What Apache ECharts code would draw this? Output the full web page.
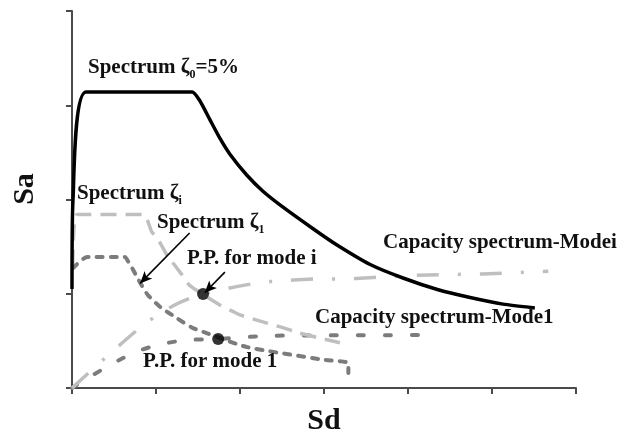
<!DOCTYPE html>
<html>
<head>
<meta charset="utf-8">
<script src="https://cdn.jsdelivr.net/npm/echarts@6/dist/echarts.min.js"></script>
<style>
html,body{margin:0;padding:0;background:#fff;}
#c{width:624px;height:434px;}
</style>
</head>
<body>
<div id="c"></div>
<script>
// Spectrum zeta0 = 5% (black)
const spec5Sd = [0, 0.012, 0.167, 1.43, 1.52, 1.64, 1.76, 1.88, 2.08, 2.27, 2.48, 2.87, 3.15, 3.55, 3.94, 4.35, 4.74, 5.13, 5.51];
const spec5Sa = [1.05, 2.0, 3.14, 3.14, 3.05, 2.85, 2.65, 2.48, 2.26, 2.09, 1.94, 1.69, 1.52, 1.31, 1.167, 1.045, 0.96, 0.89, 0.85];
// Spectrum zeta_i (light grey dashed)
const specISd = [0.01, 0.06, 0.85, 0.95, 1.01, 1.13, 1.19, 1.31, 1.40, 1.76, 1.92, 2.0, 2.20, 2.51, 2.68, 2.95, 3.19];
const specISa = [1.3, 1.84, 1.84, 1.655, 1.60, 1.41, 1.34, 1.20, 1.09, 0.88, 0.81, 0.775, 0.72, 0.64, 0.59, 0.53, 0.48];
// Spectrum zeta_1 (dark grey dotted)
const spec1Sd = [0.01, 0.18, 0.63, 0.67, 0.73, 0.79, 0.90, 1.05, 1.25, 1.43, 1.61, 2.08, 2.99, 3.29, 3.29];
const spec1Sa = [1.27, 1.39, 1.39, 1.34, 1.25, 1.15, 0.99, 0.86, 0.74, 0.64, 0.58, 0.435, 0.30, 0.265, 0.16];
// Capacity spectrum - Mode i (light grey long dash)
const capISd = [0, 0.81, 1.20, 1.56, 2.20, 2.45, 2.95, 3.21, 3.70, 4.24, 4.88, 5.67];
const capISa = [0, 0.64, 0.87, 0.997, 1.114, 1.135, 1.157, 1.157, 1.178, 1.20, 1.21, 1.24];
// Capacity spectrum - Mode 1 (dark grey dotted)
const cap1Sd = [0, 0.21, 0.54, 0.81, 1.13, 1.40, 1.74, 2.30, 3.0, 4.29];
const cap1Sa = [0, 0.117, 0.286, 0.40, 0.477, 0.51, 0.52, 0.552, 0.558, 0.562];
// Performance points
const ppSd = [1.56, 1.74];
const ppSa = [0.997, 0.52];
// Arrows [fromSd, fromSa, toSd, toSa]
const arrowZeta1 = [1.40, 1.645, 0.81, 1.11];
const arrowPPi = [1.82, 1.23, 1.58, 1.01];

const zip = (a, b) => a.map((v, i) => [v, b[i]]);
const FONT = '"Liberation Serif","Times New Roman",serif';

const chart = echarts.init(document.getElementById('c'), null, {renderer: 'canvas'});

function lbl(parts, left, midY) {
  let t = parts.map(p => '{' + p[1] + '|' + p[0] + '}').join('');
  return {
    type: 'text', left: left, top: midY - 13, z: 10,
    style: {
      text: t,
      rich: {
        b: {fontFamily: FONT, fontWeight: 'bold', fontSize: 21, lineHeight: 26, fill: '#111'},
        s: {fontFamily: FONT, fontWeight: 'bold', fontSize: 12, lineHeight: 14, verticalAlign: 'bottom', fill: '#111'}
      }
    }
  };
}

const axisCommon = {
  type: 'value',
  axisLine: {show: true, lineStyle: {color: '#4a4a4a', width: 2}},
  axisTick: {show: true, length: 6, lineStyle: {color: '#4a4a4a', width: 2}},
  axisLabel: {show: false},
  splitLine: {show: false}
};

chart.setOption({
  animation: false,
  backgroundColor: '#fff',
  grid: {left: 72, right: 48, top: 11, bottom: 46},
  xAxis: Object.assign({}, axisCommon, {min: 0, max: 6, interval: 1}),
  yAxis: Object.assign({}, axisCommon, {min: 0, max: 4, interval: 1}),
  series: [
    {
      type: 'line', data: zip(cap1Sd, cap1Sa), smooth: 0.3, symbol: 'none',
      lineStyle: {color: '#7c7c7c', width: 4, type: [6, 21], cap: 'round'}
    },
    {
      type: 'line', data: zip(capISd, capISa), smooth: 0.3, symbol: 'none',
      lineStyle: {color: '#bfbfbf', width: 3.5, type: [22, 19, 3, 19]}
    },
    {
      type: 'line', data: zip(specISd, specISa), smooth: 0.2, symbol: 'none',
      lineStyle: {color: '#bfbfbf', width: 3.5, type: [16, 9]}
    },
    {
      type: 'line', data: zip(spec1Sd, spec1Sa), smooth: 0.2, symbol: 'none',
      lineStyle: {color: '#7c7c7c', width: 4, type: [6, 8], cap: 'round'}
    },
    {
      type: 'line', data: zip(spec5Sd, spec5Sa), smooth: 0.2, symbol: 'none',
      lineStyle: {color: '#000', width: 3.5, join: 'round'},
      markLine: {
        silent: true, symbol: ['none', 'arrow'], symbolSize: [8, 12],
        label: {show: false},
        lineStyle: {color: '#000', width: 1.6, type: 'solid'},
        data: [
          [{coord: [arrowZeta1[0], arrowZeta1[1]]}, {coord: [arrowZeta1[2], arrowZeta1[3]]}],
          [{coord: [arrowPPi[0], arrowPPi[1]]}, {coord: [arrowPPi[2], arrowPPi[3]]}]
        ]
      }
    },
    {
      type: 'scatter', data: zip(ppSd, ppSa), symbol: 'circle', symbolSize: 12,
      itemStyle: {color: '#000'}, z: 5
    }
  ],
  graphic: [
    lbl([['Spectrum ζ', 'b'], ['0', 's'], ['=5%', 'b']], 88, 70),
    lbl([['Spectrum ζ', 'b'], ['i', 's']], 77, 196),
    lbl([['Spectrum ζ', 'b'], ['1', 's']], 157, 225),
    lbl([['P.P. for mode i', 'b']], 187, 261),
    lbl([['P.P. for mode 1', 'b']], 143, 364),
    lbl([['Capacity spectrum-Modei', 'b']], 383, 245),
    lbl([['Capacity spectrum-Mode1', 'b']], 315, 320),
    {
      type: 'text', x: 25, y: 189, rotation: Math.PI / 2, z: 10,
      style: {text: 'Sa', font: 'bold 30px ' + FONT, fill: '#111', textAlign: 'center', textVerticalAlign: 'middle'}
    },
    {
      type: 'text', x: 324, y: 421, z: 10,
      style: {text: 'Sd', font: 'bold 30px ' + FONT, fill: '#111', textAlign: 'center', textVerticalAlign: 'middle'}
    }
  ]
});
</script>
</body>
</html>
